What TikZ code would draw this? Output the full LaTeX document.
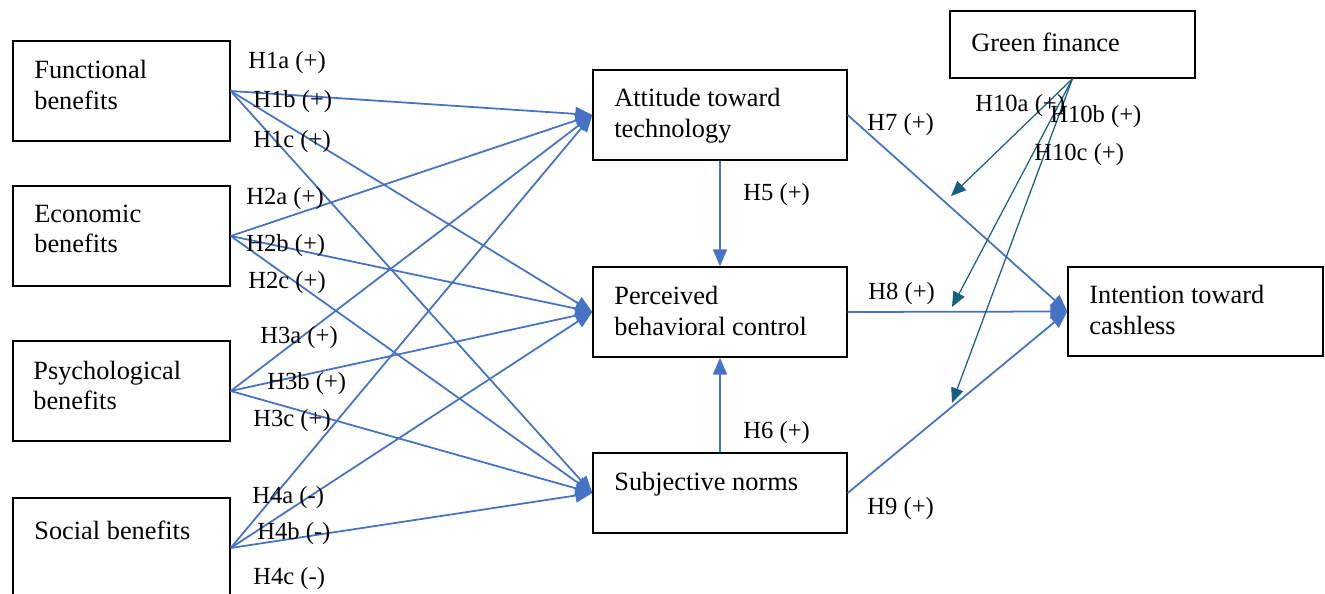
\documentclass[tikz,border=0pt]{standalone}
\usepackage{fontspec}
\setmainfont{Liberation Serif}
\usetikzlibrary{arrows.meta}

\definecolor{pathblue}{HTML}{4472C4}
\definecolor{modteal}{HTML}{156082}

\tikzset{
  box/.style={draw=black, line width=0.8pt, minimum width=4.34cm, minimum height=2cm},
  midbox/.style={box, minimum width=5.08cm, minimum height=1.8cm},
  boxtext/.style={anchor=west, inner sep=0pt, align=left, font=\fontsize{15}{17.5}\selectfont},
  hyp/.style={anchor=west, inner sep=0pt, font=\fontsize{14}{16}\selectfont},
  link/.style={draw=pathblue, line width=1pt, -{Triangle[length=0.34cm,width=0.28cm]}},
  modlink/.style={draw=modteal, line width=0.7pt, -{Triangle[length=0.3cm,width=0.25cm]}},
}

\begin{document}
\begin{tikzpicture}[x=0.02cm, y=-0.02cm]
  \useasboundingbox (0,0) rectangle (1325,594);

  % benefits
  \node[box] (fb) at (121.5,91) {};
  \node[box] (eb) at (121.5,236) {};
  \node[box] (pb) at (121.5,391) {};
  \node[box] (sb) at (121.5,548) {};

  \node[boxtext] (fbtxt) at (34,85) {Functional\\benefits};
  \node[boxtext] (ebtxt) at (34,229) {Economic\\benefits};
  \node[boxtext] (pbtxt) at (33,385.5) {Psychological\\benefits};
  \node[boxtext] (sbtxt) at (34,530) {Social benefits};

  % mediators
  \node[midbox] (att) at (720,115) {};
  \node[midbox] (pbc) at (720,312) {};
  \node[midbox, minimum height=1.6cm] (sn) at (720,493) {};

  \node[boxtext] (atttxt) at (614,115.5) {Attitude toward\\technology};
  \node[boxtext] (pbctxt) at (614,311) {Perceived\\behavioral control};
  \node[boxtext] (sntxt) at (614,484) {Subjective norms};

  % moderator and outcome
  \node[box, minimum width=4.9cm, minimum height=1.34cm] (gf) at (1072.5,44.5) {};
  \node[boxtext] (gftxt) at (971,42) {Green finance};
  \node[box, minimum width=5.1cm, minimum height=1.78cm] (int) at (1195.5,311.5) {};
  \node[boxtext] (inttxt) at (1089,310) {Intention toward\\cashless};

  % paths
  \foreach \src in {fb,eb,pb,sb}
    \foreach \dst in {att,pbc,sn}
      \draw[link] (\src.east) -- (\dst.west);

  \draw[link] (att.south) -- (pbc.north);
  \draw[link] (sn.north) -- (pbc.south);
  \draw[link] (att.east) -- (int.west);
  \draw[link] (pbc.east) -- (int.west);
  \draw[link] (sn.east) -- (int.west);

  \coordinate (m7) at (951,196);
  \coordinate (m8) at (952,307);
  \coordinate (m9) at (952,403);
  \draw[modlink] (gf.south) -- (m7);
  \draw[modlink] (gf.south) -- (m8);
  \draw[modlink] (gf.south) -- (m9);

  % hypotheses
  \node[hyp] (h1a) at (248,63) {H1a (+)};
  \node[hyp] (h1b) at (253,102) {H1b (+)};
  \node[hyp] (h1c) at (253,142) {H1c (+)};
  \node[hyp] (h2a) at (246,199) {H2a (+)};
  \node[hyp] (h2b) at (246,246) {H2b (+)};
  \node[hyp] (h2c) at (248,283) {H2c (+)};
  \node[hyp] (h3a) at (260,338) {H3a (+)};
  \node[hyp] (h3b) at (267,384) {H3b (+)};
  \node[hyp] (h3c) at (253,421) {H3c (+)};
  \node[hyp] (h4a) at (252,498) {H4a (-)};
  \node[hyp] (h4b) at (257,534) {H4b (-)};
  \node[hyp] (h4c) at (253,579) {H4c (-)};
  \node[hyp] (h5) at (743,195) {H5 (+)};
  \node[hyp] (h6) at (743,433) {H6 (+)};
  \node[hyp] (h7) at (867,125) {H7 (+)};
  \node[hyp] (h8) at (868,294) {H8 (+)};
  \node[hyp] (h9) at (867,509) {H9 (+)};
  \node[hyp] (h10a) at (975,106) {H10a (+)};
  \node[hyp] (h10b) at (1050,117) {H10b (+)};
  \node[hyp] (h10c) at (1034,155) {H10c (+)};
\end{tikzpicture}
\end{document}
